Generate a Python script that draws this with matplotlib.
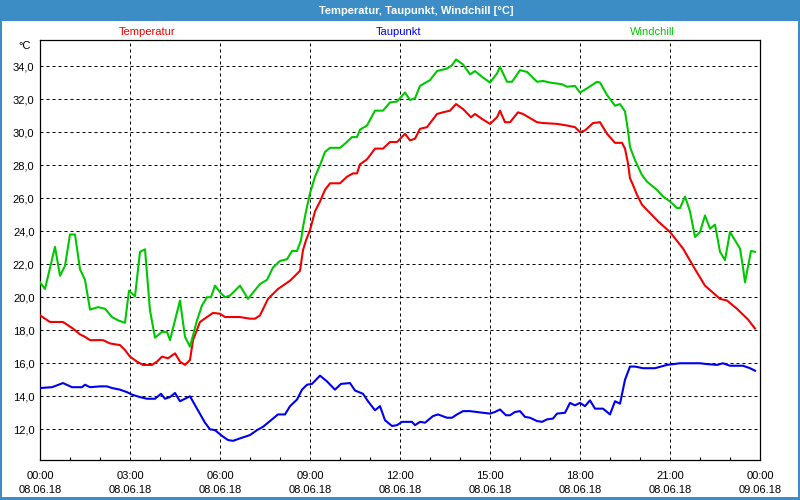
import matplotlib
matplotlib.use('Agg')
import matplotlib.pyplot as plt
from matplotlib.patches import Rectangle
from matplotlib.ticker import MultipleLocator, FixedLocator
import numpy as np

# ── Data: minutes since 08.06.18 00:00 and °C readings ─────────────────────
TEMP_MIN = [0, 20, 46, 66, 80, 90, 100, 126, 140, 160, 170, 180, 194, 206, 224,
            234, 244, 256, 270, 280, 290, 300, 306, 320, 334, 346, 360, 370, 380,
            400, 420, 430, 440, 456, 476, 500, 520, 526, 532, 540, 550, 560, 570,
            580, 600, 614, 626, 634, 640, 654, 670, 686, 700, 714, 730, 740, 750,
            760, 774, 794, 806, 820, 832, 846, 862, 870, 884, 900, 914, 920, 930,
            940, 956, 966, 994, 1006, 1034, 1054, 1070, 1080, 1090, 1106, 1120,
            1134, 1150, 1164, 1170, 1176, 1180, 1186, 1194, 1204, 1220, 1236,
            1260, 1286, 1310, 1330, 1360, 1374, 1394, 1416, 1430]
TEMP = [18.9, 18.5, 18.5, 18.1, 17.75, 17.6, 17.4, 17.4, 17.2, 17.1, 16.8, 16.4,
        16.1, 15.9, 15.9, 16.1, 16.4, 16.3, 16.6, 16.1, 15.9, 16.2, 17.4, 18.5,
        18.8, 19.05, 19.0, 18.8, 18.8, 18.8, 18.7, 18.7, 18.9, 19.9, 20.5, 21.0,
        21.6, 22.85, 23.45, 24.06, 25.2, 25.8, 26.5, 26.9, 26.9, 27.3, 27.5, 27.5,
        28.05, 28.35, 29.0, 29.0, 29.4, 29.4, 29.9, 29.5, 29.6, 30.2, 30.3, 31.1,
        31.2, 31.3, 31.7, 31.4, 30.9, 31.1, 30.8, 30.5, 30.9, 31.3, 30.6, 30.6,
        31.2, 31.1, 30.6, 30.55, 30.5, 30.4, 30.3, 30.0, 30.1, 30.55, 30.6, 29.9,
        29.35, 29.35, 29.0, 28.1, 27.2, 26.8, 26.2, 25.6, 25.1, 24.6, 23.95,
        22.95, 21.7, 20.7, 19.9, 19.8, 19.3, 18.65, 18.1]

DEW_MIN = [0, 24, 46, 64, 84, 90, 100, 120, 134, 144, 160, 174, 184, 200, 214,
           230, 242, 250, 260, 270, 280, 290, 300, 314, 330, 340, 350, 364, 376,
           386, 400, 420, 434, 446, 464, 476, 490, 500, 514, 524, 534, 544, 560,
           574, 590, 602, 620, 630, 646, 656, 670, 680, 690, 704, 714, 724, 744,
           750, 760, 770, 786, 796, 814, 824, 834, 846, 860, 886, 900, 910, 920,
           932, 940, 950, 960, 970, 980, 994, 1004, 1014, 1026, 1034, 1050, 1060,
           1070, 1080, 1090, 1100, 1110, 1126, 1140, 1150, 1160, 1170, 1180, 1190,
           1206, 1230, 1254, 1280, 1320, 1334, 1354, 1366, 1380, 1406, 1420, 1430]
DEW = [14.5, 14.55, 14.8, 14.55, 14.55, 14.7, 14.55, 14.6, 14.6, 14.5, 14.4,
       14.25, 14.1, 13.95, 13.85, 13.85, 14.15, 13.85, 13.95, 14.2, 13.7, 13.85,
       14.0, 13.25, 12.4, 12.0, 11.95, 11.6, 11.35, 11.3, 11.45, 11.65, 11.95,
       12.15, 12.6, 12.9, 12.9, 13.4, 13.8, 14.4, 14.7, 14.75, 15.25, 14.9, 14.4,
       14.75, 14.8, 14.35, 14.15, 13.7, 13.15, 13.4, 12.55, 12.2, 12.25, 12.45,
       12.45, 12.25, 12.45, 12.4, 12.8, 12.9, 12.7, 12.7, 12.9, 13.1, 13.1, 13.0,
       12.95, 13.05, 13.2, 12.85, 12.85, 13.05, 13.1, 12.75, 12.7, 12.5, 12.45,
       12.6, 12.65, 12.95, 13.0, 13.6, 13.45, 13.6, 13.4, 13.75, 13.25, 13.25,
       12.9, 13.7, 13.55, 15.0, 15.8, 15.8, 15.7, 15.7, 15.9, 16.0, 16.0, 15.95,
       15.9, 16.0, 15.85, 15.85, 15.7, 15.55]

WIND_MIN = [0, 10, 30, 40, 50, 60, 70, 80, 90, 100, 116, 130, 144, 156, 170, 178,
            190, 200, 210, 220, 230, 244, 254, 260, 280, 290, 300, 314, 324, 334,
            342, 350, 360, 370, 380, 400, 416, 440, 454, 466, 480, 494, 504, 514,
            522, 526, 532, 540, 550, 560, 570, 580, 600, 610, 624, 634, 640, 654,
            670, 686, 700, 714, 730, 740, 750, 760, 780, 794, 814, 824, 832, 846,
            860, 870, 884, 900, 914, 920, 934, 944, 960, 974, 994, 1006, 1020,
            1044, 1054, 1070, 1080, 1094, 1114, 1120, 1134, 1150, 1160, 1170, 1176,
            1180, 1190, 1204, 1214, 1234, 1246, 1260, 1274, 1280, 1290, 1300, 1310,
            1320, 1330, 1340, 1350, 1360, 1370, 1380, 1400, 1406, 1410, 1422, 1430]
WIND = [20.9, 20.5, 23.05, 21.3, 21.9, 23.8, 23.8, 21.7, 21.05, 19.25, 19.4, 19.3,
        18.8, 18.6, 18.45, 20.4, 20.05, 22.75, 22.9, 19.2, 17.55, 17.9, 17.9, 17.4,
        19.8, 17.6, 17.0, 18.6, 19.5, 20.0, 20.0, 20.7, 20.3, 20.0, 20.1, 20.7,
        19.9, 20.8, 21.05, 21.8, 22.2, 22.3, 22.8, 22.8, 23.45, 24.25, 25.2, 26.3,
        27.3, 28.0, 28.8, 29.05, 29.05, 29.3, 29.7, 29.7, 30.15, 30.4, 31.3, 31.3,
        31.8, 31.85, 32.4, 31.95, 32.05, 32.8, 33.15, 33.7, 33.85, 34.05, 34.4,
        34.1, 33.5, 33.7, 33.35, 33.0, 33.55, 33.95, 33.05, 33.05, 33.75, 33.65,
        33.05, 33.1, 33.0, 32.9, 32.75, 32.8, 32.4, 32.65, 33.05, 33.0, 32.25,
        31.6, 31.7, 31.25, 30.1, 29.1, 28.3, 27.4, 27.0, 26.5, 26.1, 25.8, 25.4,
        25.4, 26.1, 25.2, 23.65, 23.95, 24.95, 24.15, 24.4, 22.75, 22.25, 23.95,
        22.95, 21.8, 20.9, 22.8, 22.75]

X_TICKS = [0, 3, 6, 9, 12, 15, 18, 21, 24]
X_LABELS = ["00:00\n08.06.18", "03:00\n08.06.18", "06:00\n08.06.18",
            "09:00\n08.06.18", "12:00\n08.06.18", "15:00\n08.06.18",
            "18:00\n08.06.18", "21:00\n08.06.18", "00:00\n09.06.18"]
Y_TICKS = [12, 14, 16, 18, 20, 22, 24, 26, 28, 30, 32, 34]

SERIES = ["Temperatur", "Taupunkt", "Windchill"]

# ── Style ───────────────────────────────────────────────────────────────────
FRAME = "#3C8DC5"
RED = "#F00000"
BLUE = "#0000F0"
GREEN = "#00C800"
FONT = "Liberation Sans"

plt.rcParams['font.family'] = [FONT, 'DejaVu Sans']

fig = plt.figure(figsize=(8, 5), dpi=100)
fig.patch.set_facecolor("white")

# window frame: title bar + thin border
fig.add_artist(Rectangle((0, 1 - 21 / 500), 1, 21 / 500, transform=fig.transFigure,
                         facecolor=FRAME, edgecolor='none'))
for r in [(0, 0, 2 / 800, 1), (1 - 2 / 800, 0, 2 / 800, 1), (0, 0, 1, 3 / 500)]:
    fig.add_artist(Rectangle(r[:2], r[2], r[3], transform=fig.transFigure,
                             facecolor=FRAME, edgecolor='none'))
fig.text(416 / 800, 1 - 10.5 / 500, "Temperatur, Taupunkt, Windchill [°C]",
         ha='center', va='center', fontsize=8, fontweight='bold', color='white')

ax = fig.add_axes([40 / 800, 40 / 500, 720 / 800, 420 / 500])
ax.set_facecolor("white")

to_h = lambda m: np.asarray(m) / 60.0
ax.plot(to_h(TEMP_MIN), TEMP, color=RED, lw=1.5, zorder=3)
ax.plot(to_h(DEW_MIN), DEW, color=BLUE, lw=1.5, zorder=3)
ax.plot(to_h(WIND_MIN), WIND, color=GREEN, lw=1.5, zorder=3)

ax.set_xlim(0, 24)
ax.set_ylim(10.14, 35.58)

ax.xaxis.set_major_locator(FixedLocator(X_TICKS))
ax.set_xticklabels(X_LABELS)
ax.xaxis.set_minor_locator(MultipleLocator(1))
ax.yaxis.set_major_locator(FixedLocator(Y_TICKS))
ax.set_yticklabels([f"{v:.1f}".replace('.', ',') for v in Y_TICKS])

ax.tick_params(axis='x', which='major', length=0, pad=8, labelsize=8,
               colors='black')
ax.tick_params(axis='x', which='minor', direction='in', length=2.5, width=0.8,
               bottom=True, top=False)
ax.tick_params(axis='y', which='major', length=0, pad=4, labelsize=8)
for lbl in ax.get_xticklabels():
    lbl.set_linespacing(1.45)

ax.grid(True, which='major', color='black', lw=0.72, linestyle=(0, (3, 3)))
for sp in ax.spines.values():
    sp.set_color('black')
    sp.set_linewidth(0.9)

ax.text(-0.012, 1.0 - 6 / 420, "°C", transform=ax.transAxes, ha='right',
        va='center', fontsize=8)

for name, col, xc in zip(SERIES, [RED, BLUE, GREEN], [147, 399, 652]):
    fig.text(xc / 800, 1 - 32 / 500, name, ha='center', va='center',
             fontsize=8, color=col)

fig.savefig("out.png", dpi=100, facecolor="white")
